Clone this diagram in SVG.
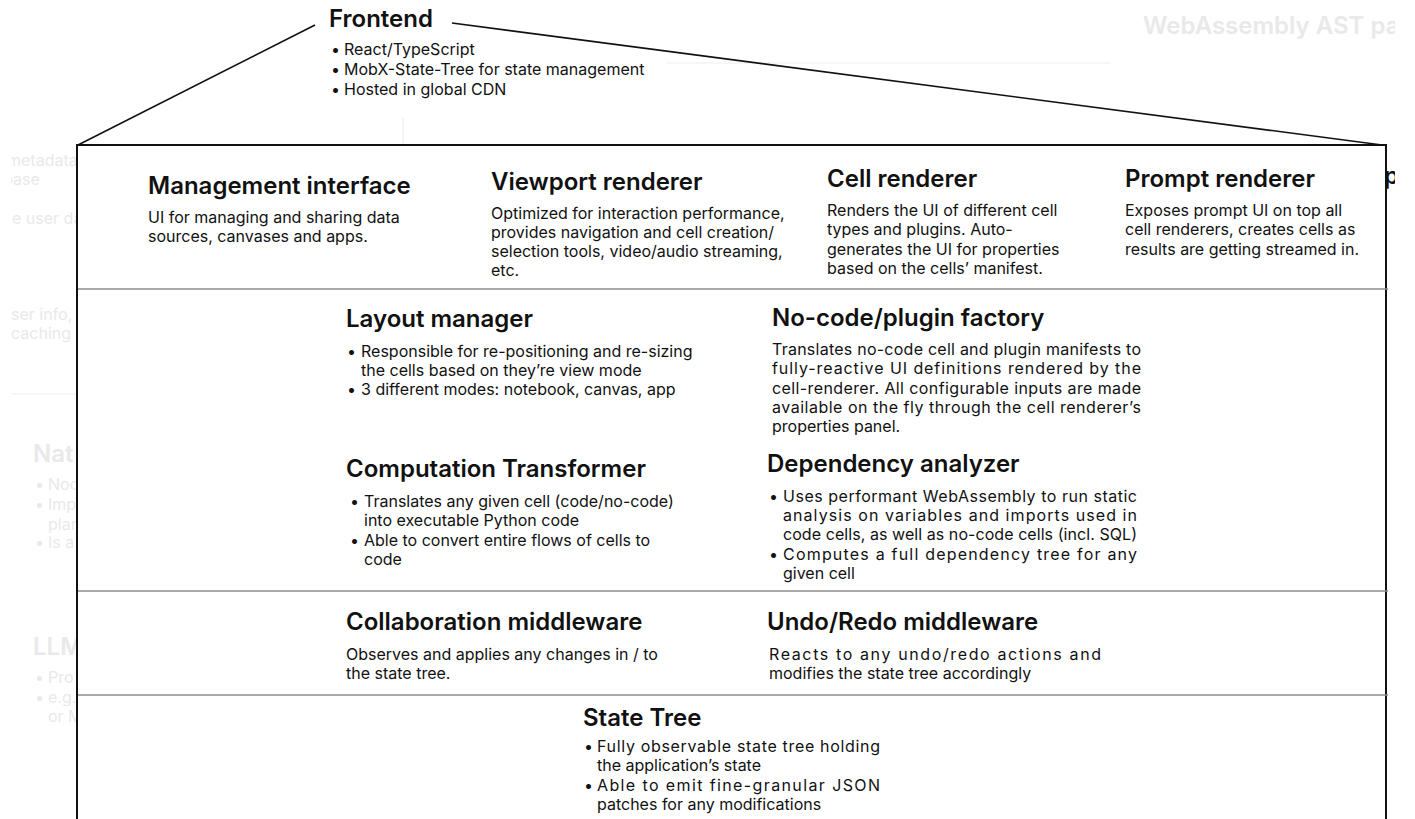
<svg xmlns="http://www.w3.org/2000/svg" width="1415" height="819" viewBox="0 0 1415 819">
  <defs>
    <style>
      text { font-family: Inter, "Noto Sans", "Liberation Sans", sans-serif; fill: #111; }
      .h { font-size: 24px; font-weight: 600; }
      .b { font-size: 16px; font-weight: 400; }
      .faint { fill: #e9e9e9; }
      .fh { font-size: 24px; font-weight: 600; fill: #e9e9e9; }
      .fb { font-size: 16px; fill: #e9e9e9; }
      .rule { stroke: #8c8c8c; stroke-width: 1.5; fill: none; }
      .edge { stroke: #111; stroke-width: 1.6; fill: none; }
    </style>
    <clipPath id="page">
      <rect x="11" y="0" width="1384" height="819"/>
    </clipPath>
  </defs>

  <rect x="0" y="0" width="1415" height="819" fill="#ffffff"/>

  <!-- surrounding context, dimmed -->
  <g id="context" clip-path="url(#page)">
    <line x1="403" y1="118" x2="403" y2="145" stroke="#eeeeee" stroke-width="1.2"/>
    <line x1="667" y1="63" x2="1110" y2="63" stroke="#eeeeee" stroke-width="1.2"/>
    <line x1="11" y1="394" x2="77" y2="394" stroke="#eeeeee" stroke-width="1.2"/>
    <text class="fh" x="1143" y="34">WebAssembly AST pa</text>
    <text class="fb" x="7" y="166">metadata</text>
    <text class="fb" x="3" y="185">base</text>
    <text class="fb" x="12" y="224">e user data</text>
    <text class="fb" x="11" y="320">ser info,</text>
    <text class="fb" x="11" y="339">caching</text>
    <text class="fh" x="33" y="462">Nat</text>
    <text class="fb" x="35" y="490">•</text><text class="fb" x="48" y="490">Nod</text>
    <text class="fb" x="35" y="510">•</text><text class="fb" x="48" y="510">Imp</text>
    <text class="fb" x="48" y="530">plan</text>
    <text class="fb" x="35" y="548">•</text><text class="fb" x="48" y="548">Is a</text>
    <text class="fh" x="33" y="655">LLM</text>
    <text class="fb" x="35" y="683">•</text><text class="fb" x="48" y="683">Pro</text>
    <text class="fb" x="35" y="703">•</text><text class="fb" x="48" y="703">e.g.</text>
    <text class="fb" x="48" y="722">or M</text>
    <text class="h" x="1384" y="184">p</text>
  </g>

  <!-- frontend container -->
  <rect id="frontend-box" x="77" y="145" width="1309" height="700" fill="#ffffff" stroke="#111" stroke-width="2"/>
  <g id="layer-rules">
    <line class="rule" x1="78" y1="289" x2="1388" y2="289"/>
    <line class="rule" x1="78" y1="591" x2="1388" y2="591"/>
    <line class="rule" x1="78" y1="695" x2="1388" y2="695"/>
  </g>

  <g id="connectors">
    <line class="edge" x1="315" y1="25" x2="78" y2="145"/>
    <line class="edge" x1="452" y1="23" x2="1382" y2="145"/>
  </g>

  <g id="frontend">
    <text class="h" x="329" y="27">Frontend</text>
    <text class="b" x="331" y="55">•</text><text class="b" x="344" y="55">React/TypeScript</text>
    <text class="b" x="331" y="75">•</text><text class="b" x="344" y="75">MobX-State-Tree for state management</text>
    <text class="b" x="331" y="95">•</text><text class="b" x="344" y="95">Hosted in global CDN</text>
  </g>

  <g id="management-interface">
    <text class="h" x="148" y="194">Management interface</text>
    <text class="b" x="148" y="223">UI for managing and sharing data</text>
    <text class="b" x="148" y="242">sources, canvases and apps.</text>
  </g>

  <g id="viewport-renderer">
    <text class="h" x="491" y="190">Viewport renderer</text>
    <text class="b" x="491" y="219">Optimized for interaction performance,</text>
    <text class="b" x="491" y="238">provides navigation and cell creation/</text>
    <text class="b" x="491" y="257">selection tools, video/audio streaming,</text>
    <text class="b" x="491" y="276">etc.</text>
  </g>

  <g id="cell-renderer">
    <text class="h" x="827" y="187">Cell renderer</text>
    <text class="b" x="827" y="216">Renders the UI of different cell</text>
    <text class="b" x="827" y="235">types and plugins. Auto-</text>
    <text class="b" x="827" y="255">generates the UI for properties</text>
    <text class="b" x="827" y="274">based on the cells’ manifest.</text>
  </g>

  <g id="prompt-renderer">
    <text class="h" x="1125" y="187">Prompt renderer</text>
    <text class="b" x="1125" y="216">Exposes prompt UI on top all</text>
    <text class="b" x="1125" y="235">cell renderers, creates cells as</text>
    <text class="b" x="1125" y="255">results are getting streamed in.</text>
  </g>

  <g id="layout-manager">
    <text class="h" x="346" y="327">Layout manager</text>
    <text class="b" x="347" y="357">•</text><text class="b" x="361" y="357">Responsible for re-positioning and re-sizing</text>
    <text class="b" x="361" y="376">the cells based on they’re view mode</text>
    <text class="b" x="347" y="395">•</text><text class="b" x="361" y="395">3 different modes: notebook, canvas, app</text>
  </g>

  <g id="plugin-factory">
    <text class="h" x="772" y="326">No-code/plugin factory</text>
    <text class="b" x="772" y="355" textLength="369" lengthAdjust="spacing">Translates no-code cell and plugin manifests to</text>
    <text class="b" x="772" y="374" textLength="369" lengthAdjust="spacing">fully-reactive UI definitions rendered by the</text>
    <text class="b" x="772" y="394" textLength="369" lengthAdjust="spacing">cell-renderer. All configurable inputs are made</text>
    <text class="b" x="772" y="413" textLength="369" lengthAdjust="spacing">available on the fly through the cell renderer’s</text>
    <text class="b" x="772" y="432">properties panel.</text>
  </g>

  <g id="computation-transformer">
    <text class="h" x="346" y="477">Computation Transformer</text>
    <text class="b" x="350" y="507">•</text><text class="b" x="364" y="507">Translates any given cell (code/no-code)</text>
    <text class="b" x="364" y="526">into executable Python code</text>
    <text class="b" x="350" y="546">•</text><text class="b" x="364" y="546">Able to convert entire flows of cells to</text>
    <text class="b" x="364" y="565">code</text>
  </g>

  <g id="dependency-analyzer">
    <text class="h" x="767" y="472">Dependency analyzer</text>
    <text class="b" x="769" y="502">•</text><text class="b" x="783" y="502" textLength="354" lengthAdjust="spacing">Uses performant WebAssembly to run static</text>
    <text class="b" x="783" y="521" textLength="354" lengthAdjust="spacing">analysis on variables and imports used in</text>
    <text class="b" x="783" y="540" textLength="354" lengthAdjust="spacing">code cells, as well as no-code cells (incl. SQL)</text>
    <text class="b" x="769" y="560">•</text><text class="b" x="783" y="560" textLength="354" lengthAdjust="spacing">Computes a full dependency tree for any</text>
    <text class="b" x="783" y="579">given cell</text>
  </g>

  <g id="collaboration-middleware">
    <text class="h" x="346" y="630">Collaboration middleware</text>
    <text class="b" x="346" y="660">Observes and applies any changes in / to</text>
    <text class="b" x="346" y="679">the state tree.</text>
  </g>

  <g id="undo-redo-middleware">
    <text class="h" x="767" y="630">Undo/Redo middleware</text>
    <text class="b" x="769" y="660" textLength="332" lengthAdjust="spacing">Reacts to any undo/redo actions and</text>
    <text class="b" x="769" y="679">modifies the state tree accordingly</text>
  </g>

  <g id="state-tree">
    <text class="h" x="583" y="726">State Tree</text>
    <text class="b" x="584" y="752">•</text><text class="b" x="597" y="752" textLength="283" lengthAdjust="spacing">Fully observable state tree holding</text>
    <text class="b" x="597" y="771">the application’s state</text>
    <text class="b" x="584" y="791">•</text><text class="b" x="597" y="791" textLength="283" lengthAdjust="spacing">Able to emit fine-granular JSON</text>
    <text class="b" x="597" y="810">patches for any modifications</text>
  </g>
</svg>
